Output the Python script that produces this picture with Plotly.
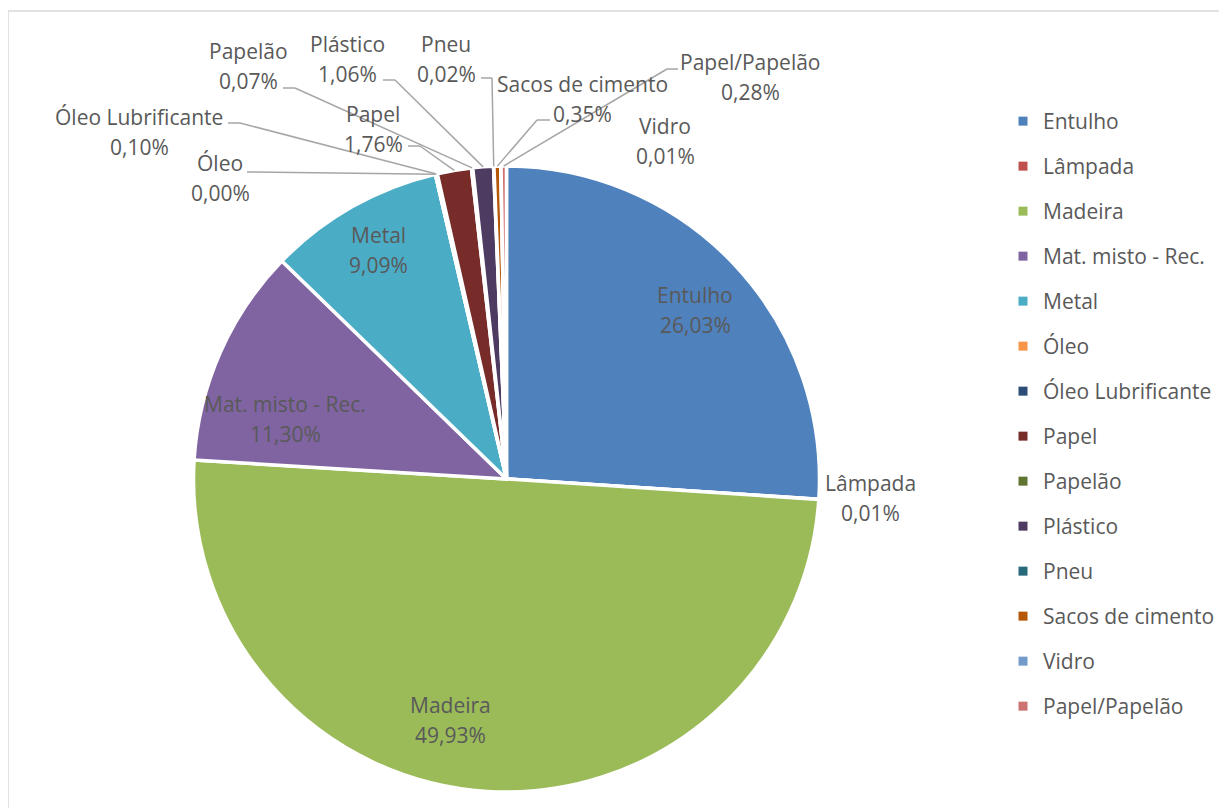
import math
import plotly.graph_objects as go

# ---- data ----
categories = ["Entulho", "Lâmpada", "Madeira", "Mat. misto - Rec.", "Metal", "Óleo",
              "Óleo Lubrificante", "Papel", "Papelão", "Plástico", "Pneu",
              "Sacos de cimento", "Vidro", "Papel/Papelão"]
values = [26.03, 0.01, 49.93, 11.30, 9.09, 0.00, 0.10, 1.76, 0.07, 1.06, 0.02, 0.35, 0.01, 0.28]

# ---- styles ----
colors = ["#4F81BD", "#C0504D", "#9BBB59", "#8064A2", "#4BACC6", "#F79646", "#2C4D75",
          "#772C2A", "#5F7530", "#4D3B62", "#276A7C", "#B65708", "#729ACA", "#CD7371"]

W, H = 1227, 808
OFF = 8  # page body margin in the browser
FONT = "Open Sans"
FS = 21
TXT = "#595959"
LINE = "#A6A6A6"

# pie placement in (screen) pixels
PIE_X0, PIE_X1, PIE_Y0, PIE_Y1 = 193, 820, 166, 792
cx, cy = (PIE_X0 + PIE_X1) / 2, (PIE_Y0 + PIE_Y1) / 2
R = min(PIE_X1 - PIE_X0, PIE_Y1 - PIE_Y0) / 2

# label block centres (pixels) and leader-line anchor/elbow points near the label
label_pos = {
    "Entulho": (695, 310), "Lâmpada": (870, 498), "Madeira": (450, 720),
    "Mat. misto - Rec.": (285, 419), "Metal": (378, 250), "Óleo": (220, 178),
    "Óleo Lubrificante": (139, 132), "Papel": (373, 129), "Papelão": (248, 66),
    "Plástico": (347, 59), "Pneu": (446, 59), "Sacos de cimento": (582, 99),
    "Vidro": (665, 141), "Papel/Papelão": (750, 77),
}
leader = {
    "Óleo": [(247, 172)],
    "Óleo Lubrificante": [(228, 123), (240, 123)],
    "Papelão": [(283, 88), (295, 88)],
    "Papel": [(408, 146), (420, 146)],
    "Plástico": [(383, 80), (395, 80)],
    "Pneu": [(481, 78), (492, 78)],
    "Sacos de cimento": [(550, 120), (537, 120)],
    "Papel/Papelão": [(678, 69), (667, 69)],
}
LINE_GAP = 30


def px(x):
    return (x - OFF) / W


def py(y):
    return 1 - (y - OFF) / H


def fmt(v):
    return f"{v:.2f}".replace(".", ",") + "%"


fig = go.Figure()
fig.add_trace(go.Pie(
    labels=categories, values=values, sort=False, direction="clockwise", rotation=0,
    marker=dict(colors=colors, line=dict(color="white", width=3.5)),
    textinfo="none", showlegend=False,
    domain=dict(x=[px(PIE_X0), px(PIE_X1)], y=[py(PIE_Y1), py(PIE_Y0)]),
))

# legend via marker-only traces (allows Excel-like spacing)
for c, col in zip(categories, colors):
    fig.add_trace(go.Scatter(x=[None], y=[None], mode="markers", name=c, legendgroup=c,
                             marker=dict(symbol="square", size=9, color=col)))

annotations = []
shapes = []
total = sum(values)
cum = 0.0
for c, v in zip(categories, values):
    mid = (cum + v / 2) / total
    cum += v
    ang = 2 * math.pi * mid
    ex, ey = cx + R * math.sin(ang), cy - R * math.cos(ang)
    lx, ly = label_pos[c]
    annotations.append(dict(x=px(lx), y=py(ly - LINE_GAP / 2), xref="paper", yref="paper",
                            text=c, showarrow=False, xanchor="center", yanchor="middle",
                            font=dict(family=FONT, size=FS, color=TXT)))
    annotations.append(dict(x=px(lx), y=py(ly + LINE_GAP / 2), xref="paper", yref="paper",
                            text=fmt(v), showarrow=False, xanchor="center", yanchor="middle",
                            font=dict(family=FONT, size=FS, color=TXT)))
    if c in leader:
        pts = leader[c] + [(ex, ey)]
        for (a1, b1), (a2, b2) in zip(pts[:-1], pts[1:]):
            shapes.append(dict(type="line", xref="paper", yref="paper",
                               x0=px(a1), y0=py(b1), x1=px(a2), y1=py(b2),
                               line=dict(color=LINE, width=1.5)))

# chart-area border
shapes.append(dict(type="rect", xref="paper", yref="paper", x0=px(8), y0=py(11),
                   x1=1.05, y1=-0.05, line=dict(color="#D9D9D9", width=1.5)))

fig.update_layout(
    width=W, height=H, margin=dict(l=0, r=0, t=0, b=0),
    paper_bgcolor="white", plot_bgcolor="white",
    xaxis=dict(visible=False), yaxis=dict(visible=False),
    annotations=annotations, shapes=shapes,
    legend=dict(x=px(1003), y=py(101), xanchor="left", yanchor="top",
                font=dict(family=FONT, size=FS, color=TXT), tracegroupgap=14.7,
                itemsizing="trace", bgcolor="rgba(0,0,0,0)"),
    font=dict(family=FONT, color=TXT),
)

fig.write_html("out.html")
